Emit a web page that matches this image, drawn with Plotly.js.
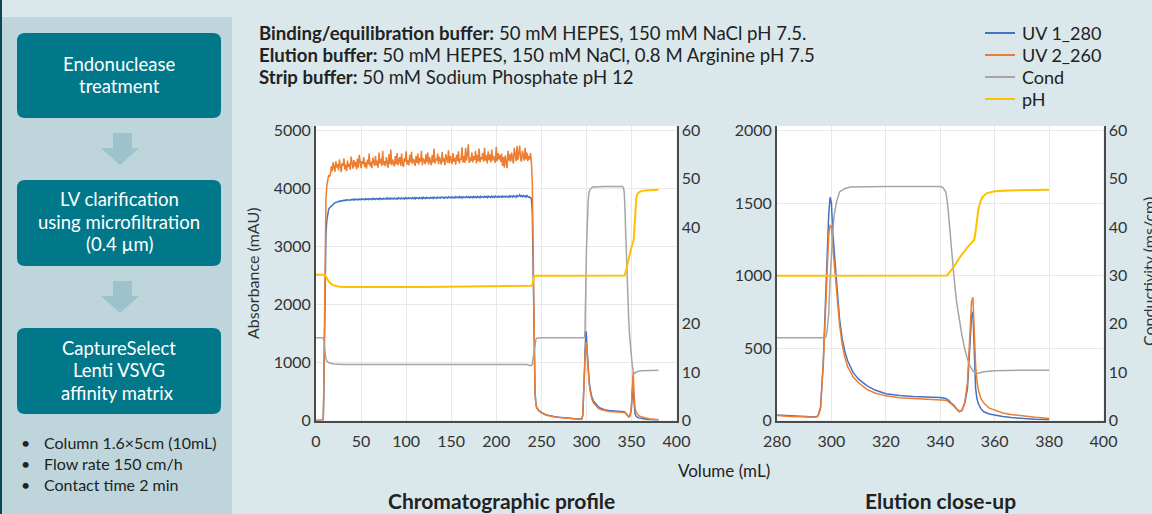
<!DOCTYPE html>
<html>
<head>
<meta charset="utf-8">
<script src="https://cdn.plot.ly/plotly-3.0.1.min.js"></script>
<style>
html,body{margin:0;padding:0;background:#dae8ec;}
#chart{width:1152px;height:514px;}
</style>
</head>
<body>
<div id="chart"></div>
<script>
// ---------------- DATA ----------------
// Volume (mL) for UV traces: loading start
const volA = [0,2,4,6,7,8,8.5,9,9.5,10,10.5,11,12,13,14,15];
const uv280A = [0,0,0,0,0,10,300,900,1700,2400,2900,3200,3450,3580,3640,3665];
const uv260A = [0,0,0,0,0,10,400,1200,2200,3000,3500,3800,4050,4150,4230,4200];

// Loading plateau (16-238 mL)
const volB = [
16,17,18,19,20,21,22,23,24,25,
26,27,28,29,30,31,32,33,34,35,
36,37,38,39,40,41,42,43,44,45,
46,47,48,49,50,51,52,53,54,55,
56,57,58,59,60,61,62,63,64,65,
66,67,68,69,70,71,72,73,74,75,
76,77,78,79,80,81,82,83,84,85,
86,87,88,89,90,91,92,93,94,95,
96,97,98,99,100,101,102,103,104,105,
106,107,108,109,110,111,112,113,114,115,
116,117,118,119,120,121,122,123,124,125,
126,127,128,129,130,131,132,133,134,135,
136,137,138,139,140,141,142,143,144,145,
146,147,148,149,150,151,152,153,154,155,
156,157,158,159,160,161,162,163,164,165,
166,167,168,169,170,171,172,173,174,175,
176,177,178,179,180,181,182,183,184,185,
186,187,188,189,190,191,192,193,194,195,
196,197,198,199,200,201,202,203,204,205,
206,207,208,209,210,211,212,213,214,215,
216,217,218,219,220,221,222,223,224,225,
226,227,228,229,230,231,232,233,234,235,
236,237,238];
const uv280B = [
3680,3705,3720,3738,3745,3755,3760,3772,3768,3778,
3774,3786,3780,3792,3785,3798,3790,3802,3795,3806,
3800,3808,3797,3812,3803,3815,3800,3818,3806,3812,
3802,3820,3808,3815,3805,3822,3810,3818,3804,3825,
3812,3820,3806,3826,3814,3822,3808,3830,3815,3824,
3812,3828,3816,3824,3810,3834,3818,3826,3812,3830,
3820,3826,3814,3838,3818,3830,3816,3834,3822,3828,
3818,3836,3822,3830,3815,3840,3824,3832,3820,3836,
3826,3834,3818,3842,3824,3836,3822,3840,3828,3834,
3822,3842,3826,3838,3820,3845,3830,3838,3824,3844,
3830,3840,3822,3848,3832,3842,3826,3846,3834,3840,
3828,3848,3834,3844,3826,3850,3836,3842,3830,3852,
3838,3846,3832,3854,3840,3846,3830,3852,3838,3848,
3834,3856,3842,3850,3836,3854,3840,3850,3834,3858,
3844,3852,3838,3860,3842,3854,3836,3858,3846,3852,
3840,3862,3846,3856,3838,3860,3844,3856,3840,3862,
3848,3856,3842,3864,3846,3858,3840,3866,3850,3856,
3844,3866,3848,3860,3842,3868,3852,3858,3846,3866,
3850,3862,3844,3870,3854,3860,3846,3868,3852,3862,
3848,3872,3854,3864,3850,3870,3856,3862,3848,3874,
3856,3866,3852,3876,3858,3868,3850,3878,3860,3868,
3892,3862,3874,3856,3880,3862,3870,3852,3884,3860,
3848,3856,3835];
const uv260B = [
4250,4380,4300,4450,4340,4290,4470,4360,4420,4310,
4500,4350,4280,4440,4390,4520,4330,4410,4300,4480,
4370,4430,4320,4550,4400,4340,4490,4380,4460,4330,
4510,4360,4580,4400,4350,4470,4420,4540,4370,4450,
4340,4500,4410,4600,4380,4460,4350,4530,4420,4390,
4560,4400,4480,4360,4620,4430,4510,4390,4650,4410,
4470,4380,4540,4440,4360,4590,4420,4670,4400,4500,
4450,4380,4560,4420,4610,4400,4480,4540,4390,4600,
4430,4370,4520,4460,4640,4410,4490,4400,4580,4450,
4630,4420,4510,4470,4390,4560,4440,4600,4410,4530,
4460,4650,4400,4520,4480,4420,4590,4450,4620,4410,
4540,4470,4400,4580,4450,4690,4430,4510,4480,4600,
4420,4550,4470,4410,4630,4460,4520,4400,4590,4480,
4440,4660,4430,4560,4490,4420,4610,4460,4530,4410,
4580,4470,4640,4430,4520,4490,4710,4450,4560,4440,
4700,4480,4590,4760,4440,4530,4470,4620,4450,4560,
4490,4650,4430,4580,4470,4690,4450,4540,4500,4610,
4460,4700,4480,4570,4430,4640,4490,4590,4450,4670,
4480,4560,4510,4440,4720,4470,4610,4500,4580,4460,
4600,4390,4540,4360,4570,4450,4350,4650,4480,4590,
4460,4620,4500,4430,4700,4520,4470,4730,4490,4600,
4740,4510,4460,4650,4530,4480,4700,4500,4620,4470,
4560,4500,4610];

// Wash, elution, strip
const volC = [239,240,241,242,243,244,245,247,250,255,260,265,270,275,280,285,290,
294,295,296,297,298,298.5,299,299.5,300,300.5,301,302,303,304,305,306,308,310,313,316,320,
325,330,335,340,342,343,344,345,346,347,348,349,350,350.5,351,351.5,352,352.5,353,353.5,354,
355,356,358,360,363,366,370,375,380];
const uv280C = [3820,3600,2500,1200,500,280,220,180,140,100,80,65,55,45,38,32,27,
24,30,90,400,900,1200,1420,1540,1500,1300,1150,930,700,560,470,410,330,285,240,210,185,
172,165,162,158,152,140,120,105,80,62,70,120,220,380,560,720,750,400,220,150,115,
80,60,45,37,28,20,14,9,5];
const uv260C = [4450,4100,2800,1300,500,270,210,170,130,95,75,60,50,42,32,28,25,
23,28,80,380,880,1100,1280,1345,1340,1200,1080,880,660,520,430,370,300,260,215,190,170,
157,152,149,145,140,130,115,100,78,62,70,125,260,420,620,820,850,560,380,270,210,
150,120,85,70,52,42,32,22,14];

// Conductivity (mS/cm)
const condVol = [0,8,9,10,11,12,14,17,20,30,100,200,234,237,239,240,241,242,243,244,
245,250,297,298,298.5,299,299.5,300,300.5,301,302,303,305,307,320,340,341,342,342.5,343,
343.5,344,345,346,347,348,349,350,351,352,353,354,356,360,370,380];
const condVal = [17.1,17.1,16,14,12.8,12.3,12.0,11.8,11.7,11.6,11.6,11.6,11.6,11.4,11.4,11.6,13,15,16.3,16.8,
17.0,17.1,17.1,17.3,19,22,29,35,39,42.5,45.5,47.3,48,48.3,48.4,48.4,48.2,47.3,45.7,43,
39.5,36,30,24.5,20.8,17.5,14.8,12.7,11.2,10.3,9.8,9.8,10.1,10.3,10.4,10.4];

// pH
const phVol = [0,10,12,14,17,20,25,30,120,200,238,240,241,242,245,260,300,342,342.5,345,
347.4,350,352.5,353,353.5,354,354.7,355.5,357,360,365,380];
const phVal = [7.54,7.54,7.35,7.2,7.05,6.98,6.93,6.9,6.9,6.93,6.97,7.0,7.3,7.45,7.48,7.48,7.49,7.5,7.5,7.95,
8.48,8.95,9.35,9.8,10.4,10.9,11.3,11.55,11.75,11.85,11.9,11.93];

const seriesNames = ['UV 1_280','UV 2_260','Cond','pH'];
const xTicksFull = [0,50,100,150,200,250,300,350,400];
const xTicksZoom = [280,300,320,340,360,380,400];
const absTicksFull = [0,1000,2000,3000,4000,5000];
const absTicksZoom = [0,500,1000,1500,2000];
const condTicksFull = [0,10,20,40,50,60];
const condTicksZoom = [0,10,20,30,40,50,60];

// ---------------- BUILD ----------------
const volUV = volA.concat(volB, volC);
const uv280 = uv280A.concat(uv280B, uv280C);
const uv260 = uv260A.concat(uv260B, uv260C);

const W = 1152, H = 514;
const X = p => p / W;
const Y = p => 1 - p / H;

const seriesColors = ['#4472c4','#ed7d31','#a5a5a5','#ffc000'];
const FONT = 'Lato, "Open Sans", sans-serif';

function traces(xa, ya, yb, yc) {
  return [
    {x: volUV, y: uv280, xaxis: xa, yaxis: ya, name: seriesNames[0], mode:'lines',
     line:{color:seriesColors[0], width:1.5}},
    {x: volUV, y: uv260, xaxis: xa, yaxis: ya, name: seriesNames[1], mode:'lines',
     line:{color:seriesColors[1], width:1.5}},
    {x: condVol, y: condVal, xaxis: xa, yaxis: yb, name: seriesNames[2], mode:'lines',
     line:{color:seriesColors[2], width:1.5}},
    {x: phVol, y: phVal, xaxis: xa, yaxis: yc, name: seriesNames[3], mode:'lines',
     line:{color:seriesColors[3], width:2}}
  ];
}

const data = traces('x','y','y2','y3').concat(traces('x2','y4','y5','y6'));

const yDom = [Y(420.5), Y(126)];
const axCommon = {
  showline:true, linecolor:'#4a4a4a', linewidth:2, ticks:'', zeroline:false,
  tickfont:{family:FONT, size:16, color:'#333'}, gridcolor:'#e8e8e8', fixedrange:true
};

function rr(x0,y0,x1,y1,r){
  return `M ${X(x0+r)},${Y(y0)} L ${X(x1-r)},${Y(y0)} Q ${X(x1)},${Y(y0)} ${X(x1)},${Y(y0+r)} ` +
         `L ${X(x1)},${Y(y1-r)} Q ${X(x1)},${Y(y1)} ${X(x1-r)},${Y(y1)} ` +
         `L ${X(x0+r)},${Y(y1)} Q ${X(x0)},${Y(y1)} ${X(x0)},${Y(y1-r)} ` +
         `L ${X(x0)},${Y(y0+r)} Q ${X(x0)},${Y(y0)} ${X(x0+r)},${Y(y0)} Z`;
}
function arrow(yTop, yNeck, yTip){
  return `M ${X(113)},${Y(yTop)} L ${X(132)},${Y(yTop)} L ${X(132)},${Y(yNeck)} L ${X(139)},${Y(yNeck)} ` +
         `L ${X(120)},${Y(yTip)} L ${X(101)},${Y(yNeck)} L ${X(113)},${Y(yNeck)} Z`;
}

const shapes = [
  {type:'rect', xref:'paper', yref:'paper', x0:X(0), x1:X(232), y0:Y(514), y1:Y(17),
   fillcolor:'#bed6db', line:{width:0}, layer:'below'},
  {type:'rect', xref:'paper', yref:'paper', x0:X(0), x1:X(2), y0:Y(514), y1:Y(0),
   fillcolor:'#0d4655', line:{width:0}, layer:'below'},
  {type:'path', xref:'paper', yref:'paper', path: rr(17,33,221,118,8), fillcolor:'#00788a', line:{width:0}, layer:'below'},
  {type:'path', xref:'paper', yref:'paper', path: rr(17,180,221,266,8), fillcolor:'#00788a', line:{width:0}, layer:'below'},
  {type:'path', xref:'paper', yref:'paper', path: rr(17,328,221,414,8), fillcolor:'#00788a', line:{width:0}, layer:'below'},
  {type:'path', xref:'paper', yref:'paper', path: arrow(133,148,165), fillcolor:'#9cc3cc', line:{width:0}, layer:'below'},
  {type:'path', xref:'paper', yref:'paper', path: arrow(281,296,313), fillcolor:'#9cc3cc', line:{width:0}, layer:'below'}
];

function txt(text, x, y, opts){
  return Object.assign({text, x:X(x), y:Y(y), xref:'paper', yref:'paper', showarrow:false,
    xanchor:'center', yanchor:'middle', font:{family:FONT, size:18, color:'#222'}}, opts||{});
}
const white = {family:FONT, size:18.5, color:'#ffffff'};
const small = {family:FONT, size:16, color:'#222'};
const buf = {family:FONT, size:18.6, color:'#222'};
const annotations = [
  txt('Endonuclease', 119, 64, {font:white}),
  txt('treatment', 119, 86, {font:white}),
  txt('LV clarification', 119, 199, {font:white}),
  txt('using microfiltration', 119, 222, {font:white}),
  txt('(0.4 µm)', 119, 244, {font:white}),
  txt('CaptureSelect', 119, 348, {font:white}),
  txt('Lenti VSVG', 119, 370, {font:white}),
  txt('affinity matrix', 117, 393, {font:white}),
  txt('•', 25, 442, {font:small}),
  txt('•', 25, 463, {font:small}),
  txt('•', 25, 484, {font:small}),
  txt('Column 1.6×5cm (10mL)', 42, 442, {xanchor:'left', font:small}),
  txt('Flow rate 150 cm/h', 42, 463, {xanchor:'left', font:small}),
  txt('Contact time 2 min', 42, 484, {xanchor:'left', font:small}),
  txt('<b>Binding/equilibration buffer:</b> 50 mM HEPES, 150 mM NaCl pH 7.5.', 257, 33, {xanchor:'left', font:buf}),
  txt('<b>Elution buffer:</b> 50 mM HEPES, 150 mM NaCl, 0.8 M Arginine pH 7.5', 257, 55, {xanchor:'left', font:buf}),
  txt('<b>Strip buffer:</b> 50 mM Sodium Phosphate pH 12', 257, 77, {xanchor:'left', font:buf}),
  txt('Volume (mL)', 724, 470, {font:{family:FONT, size:17, color:'#222'}}),
  txt('<b>Chromatographic profile</b>', 501, 500, {font:{family:FONT, size:21, color:'#222'}}),
  txt('<b>Elution close-up</b>', 940, 500, {font:{family:FONT, size:21, color:'#222'}}),
  txt('Conductivity (ms/cm)', 1148, 272, {textangle:-90, font:{family:FONT, size:16, color:'#333'}})
];

// Legend (drawn as line samples + labels)
const legendRows = [33, 55, 77, 99];
seriesNames.forEach((name, i) => {
  shapes.push({type:'line', xref:'paper', yref:'paper', x0:X(985), x1:X(1015),
    y0:Y(legendRows[i]), y1:Y(legendRows[i]), line:{color:seriesColors[i], width:2}});
  annotations.push(txt(name, 1020, legendRows[i], {xanchor:'left', font:{family:FONT, size:18, color:'#222'}}));
});

const layout = {
  width:W, height:H, margin:{l:0,r:0,t:0,b:0,pad:0},
  paper_bgcolor:'#dae8ec', plot_bgcolor:'#ffffff',
  font:{family:FONT, color:'#333'},
  showlegend:false,
  xaxis: Object.assign({}, axCommon, {domain:[X(316), X(676.5)], range:[0,400], tickvals:xTicksFull,
          showgrid:true, anchor:'y', ticklabelstandoff:5}),
  yaxis: Object.assign({}, axCommon, {domain:yDom, range:[0,5077], tickvals:absTicksFull, showgrid:true,
          anchor:'x', title:{text:'Absorbance (mAU)', font:{family:FONT, size:16, color:'#333'}, standoff:10}}),
  yaxis2: Object.assign({}, axCommon, {overlaying:'y', side:'right', anchor:'x', range:[0,60.93],
          tickvals:condTicksFull, showgrid:false}),
  yaxis3: {overlaying:'y', anchor:'x', range:[0,15.23], visible:false, fixedrange:true},
  xaxis2: Object.assign({}, axCommon, {domain:[X(777), X(1103.5)], range:[280,400], tickvals:xTicksZoom,
          showgrid:true, anchor:'y4', ticklabelstandoff:5}),
  yaxis4: Object.assign({}, axCommon, {domain:yDom, range:[0,2031], tickvals:absTicksZoom, showgrid:true,
          anchor:'x2'}),
  yaxis5: Object.assign({}, axCommon, {overlaying:'y4', side:'right', anchor:'x2', range:[0,60.93],
          tickvals:condTicksZoom, showgrid:false}),
  yaxis6: {overlaying:'y4', anchor:'x2', range:[0,15.23], visible:false, fixedrange:true},
  shapes, annotations
};

Plotly.newPlot('chart', data, layout, {displayModeBar:false, staticPlot:true});
</script>
</body>
</html>
